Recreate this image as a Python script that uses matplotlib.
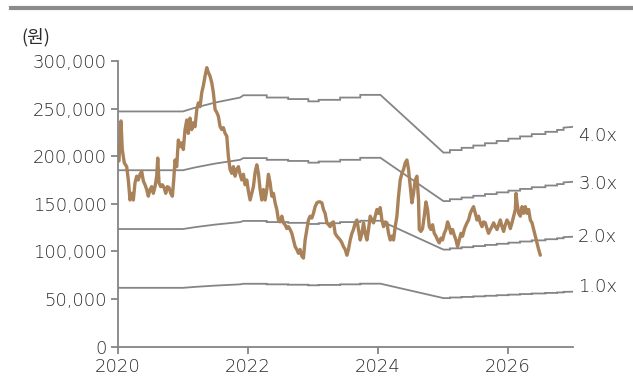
import numpy as np
import matplotlib
matplotlib.use("Agg")
import matplotlib.pyplot as plt
from matplotlib.lines import Line2D
from matplotlib.ticker import FuncFormatter

# price (thousand won) against decimal year
price_year = [
    2020.015, 2020.046, 2020.066, 2020.097, 2020.134, 2020.159, 2020.185, 2020.211, 2020.236, 2020.262,
    2020.288, 2020.313, 2020.339, 2020.365, 2020.390, 2020.416, 2020.442, 2020.467, 2020.493, 2020.519,
    2020.544, 2020.570, 2020.596, 2020.612, 2020.632, 2020.658, 2020.683, 2020.709, 2020.735, 2020.760,
    2020.786, 2020.812, 2020.837, 2020.858, 2020.878, 2020.904, 2020.929, 2020.955, 2020.981, 2021.006,
    2021.032, 2021.059, 2021.083, 2021.109, 2021.136, 2021.160, 2021.186, 2021.213, 2021.237, 2021.263,
    2021.290, 2021.314, 2021.340, 2021.367, 2021.391, 2021.418, 2021.444, 2021.468, 2021.495, 2021.521,
    2021.545, 2021.572, 2021.598, 2021.622, 2021.649, 2021.675, 2021.699, 2021.726, 2021.752, 2021.777,
    2021.803, 2021.829, 2021.854, 2021.880, 2021.906, 2021.931, 2021.957, 2021.983, 2022.008, 2022.034,
    2022.060, 2022.085, 2022.111, 2022.137, 2022.162, 2022.188, 2022.214, 2022.239, 2022.265, 2022.291,
    2022.316, 2022.342, 2022.368, 2022.393, 2022.419, 2022.445, 2022.470, 2022.496, 2022.522, 2022.547,
    2022.573, 2022.599, 2022.624, 2022.650, 2022.676, 2022.701, 2022.727, 2022.753, 2022.778, 2022.804,
    2022.830, 2022.855, 2022.881, 2022.907, 2022.932, 2022.958, 2022.984, 2023.009, 2023.035, 2023.062,
    2023.086, 2023.112, 2023.139, 2023.163, 2023.189, 2023.216, 2023.240, 2023.266, 2023.293, 2023.317,
    2023.343, 2023.370, 2023.396, 2023.421, 2023.447, 2023.471, 2023.498, 2023.524, 2023.548, 2023.575,
    2023.601, 2023.625, 2023.652, 2023.678, 2023.702, 2023.729, 2023.755, 2023.780, 2023.806, 2023.832,
    2023.857, 2023.883, 2023.909, 2023.934, 2023.960, 2023.986, 2024.011, 2024.037, 2024.063, 2024.088,
    2024.114, 2024.140, 2024.165, 2024.191, 2024.217, 2024.242, 2024.268, 2024.294, 2024.319, 2024.345,
    2024.371, 2024.396, 2024.422, 2024.448, 2024.473, 2024.499, 2024.525, 2024.550, 2024.576, 2024.602,
    2024.627, 2024.638, 2024.664, 2024.689, 2024.715, 2024.741, 2024.766, 2024.792, 2024.818, 2024.843,
    2024.869, 2024.895, 2024.920, 2024.946, 2024.972, 2024.997, 2025.023, 2025.049, 2025.074, 2025.100,
    2025.126, 2025.151, 2025.177, 2025.203, 2025.228, 2025.254, 2025.280, 2025.305, 2025.331, 2025.347,
    2025.373, 2025.397, 2025.424, 2025.450, 2025.474, 2025.501, 2025.527, 2025.551, 2025.578, 2025.604,
    2025.629, 2025.655, 2025.681, 2025.705, 2025.732, 2025.758, 2025.783, 2025.809, 2025.835, 2025.860,
    2025.886, 2025.912, 2025.937, 2025.963, 2025.989, 2026.014, 2026.040, 2026.066, 2026.091, 2026.117,
    2026.128, 2026.143, 2026.168, 2026.194, 2026.220, 2026.245, 2026.271, 2026.297, 2026.322, 2026.348,
    2026.374, 2026.399, 2026.425, 2026.451, 2026.476, 2026.502,
]
price_k = [
    195, 237, 207, 193, 189, 175, 154, 161, 154, 172,
    179, 175, 181, 184, 174, 170, 165, 158, 165, 168,
    161, 168, 179, 198, 172, 168, 170, 167, 161, 168,
    167, 161, 158, 175, 196, 189, 217, 210, 214, 207,
    228, 238, 224, 240, 228, 235, 231, 249, 256, 252,
    267, 274, 284, 293, 288, 284, 277, 267, 249, 246,
    242, 231, 228, 230, 224, 221, 200, 186, 182, 189,
    179, 186, 189, 181, 175, 181, 170, 175, 163, 154,
    161, 168, 183, 191, 182, 165, 154, 165, 154, 165,
    181, 172, 158, 161, 151, 144, 133, 131, 137, 130,
    128, 124, 126, 123, 119, 112, 105, 102, 98, 102,
    95, 93, 112, 123, 133, 137, 135, 140, 147, 151,
    152, 152, 151, 144, 140, 130, 128, 126, 130, 131,
    119, 116, 114, 112, 109, 105, 102, 96, 102, 112,
    119, 123, 130, 133, 123, 112, 119, 130, 119, 112,
    123, 137, 133, 130, 137, 144, 140, 146, 133, 126,
    131, 130, 119, 112, 116, 112, 126, 137, 158, 175,
    182, 186, 193, 196, 186, 168, 151, 161, 175, 179,
    154, 123, 121, 124, 137, 152, 144, 126, 123, 128,
    119, 116, 112, 109, 114, 112, 119, 123, 131, 126,
    119, 123, 117, 112, 105, 112, 119, 116, 123, 126,
    130, 133, 140, 144, 147, 140, 133, 137, 130, 126,
    131, 130, 124, 119, 123, 126, 130, 126, 123, 128,
    133, 126, 121, 128, 133, 130, 124, 130, 137, 144,
    161, 151, 140, 137, 147, 140, 147, 140, 144, 133,
    130, 123, 116, 109, 102, 96,
]

# book value per share (thousand won); repeated years mark step changes
bps_year = [
    2020.00, 2021.00, 2021.19, 2021.50, 2021.88, 2021.93, 2022.29, 2022.29, 2022.62, 2022.62,
    2022.93, 2022.93, 2023.09, 2023.09, 2023.42, 2023.42, 2023.73, 2023.73, 2024.04, 2025.01,
    2025.11, 2025.11, 2025.29, 2025.29, 2025.47, 2025.47, 2025.65, 2025.65, 2025.83, 2025.83,
    2026.01, 2026.01, 2026.19, 2026.19, 2026.37, 2026.37, 2026.58, 2026.58, 2026.76, 2026.76,
    2026.86, 2026.86, 2027.00,
]
bps_k = [
    61.75, 61.75, 62.75, 64.1, 65.4, 66.0, 66.0, 65.4, 65.4, 65.0,
    65.0, 64.4, 64.4, 64.8, 64.8, 65.4, 65.4, 66.1, 66.1, 50.95,
    50.95, 51.6, 51.6, 52.2, 52.2, 52.8, 52.8, 53.4, 53.4, 54.0,
    54.0, 54.6, 54.6, 55.2, 55.2, 55.8, 55.8, 56.4, 56.4, 56.9,
    56.9, 57.5, 57.7,
]

multiples = [4.0, 3.0, 2.0, 1.0]
label_k = [221, 171, 115, 63]

year_ticks = [2020, 2022, 2024, 2026]

plt.rcParams['font.family'] = ['DejaVu Sans', 'Noto Sans CJK KR']
text_color = '#2b2b2b'
band_color = '#858585'
price_color = '#A9825A'
thin = 200

fig = plt.figure(figsize=(6.33, 3.85), dpi=100)
ax = fig.add_axes([0.1864, 0.0997, 0.7183, 0.7419])

bps = np.array(bps_k) * 1000
for m in multiples:
    ax.plot(bps_year, bps * m, color=band_color, lw=1.3, solid_joinstyle='miter')

ax.plot(price_year, np.array(price_k) * 1000, color=price_color, lw=2.4,
        solid_joinstyle='round', solid_capstyle='round')

for m, yk in zip(multiples, label_k):
    ax.text(1.012, yk * 1000, f'{m:.1f}x', transform=ax.get_yaxis_transform(),
            ha='left', va='center', fontsize=13, color=text_color, fontweight=thin)

ax.set_xlim(2020, 2027)
ax.set_ylim(0, 300000)
ax.set_yticks(np.arange(0, 300001, 50000))
ax.yaxis.set_major_formatter(FuncFormatter(lambda v, p: f'{int(v):,}'))
ax.set_xticks(year_ticks)
ax.set_xticklabels([str(y) for y in year_ticks])

for side in ['top', 'right']:
    ax.spines[side].set_visible(False)
for side in ['left', 'bottom']:
    ax.spines[side].set_color(band_color)
    ax.spines[side].set_linewidth(1.3)
ax.tick_params(direction='out', length=5, width=1.3, color=band_color,
               labelsize=13, labelcolor=text_color, pad=3)
for lab in ax.get_xticklabels() + ax.get_yticklabels():
    lab.set_fontweight(thin)

fig.text(0.034, 0.904, '(원)', fontsize=13, color=text_color, ha='left', va='center',
         family=['Noto Sans CJK KR', 'DejaVu Sans'], fontweight='light')

# grey rule across the top of the page
fig.add_artist(Line2D([0.017, 1.0], [0.98, 0.98], transform=fig.transFigure,
                      color='#8c8c8c', lw=3))

fig.savefig('out.png', dpi=100)
